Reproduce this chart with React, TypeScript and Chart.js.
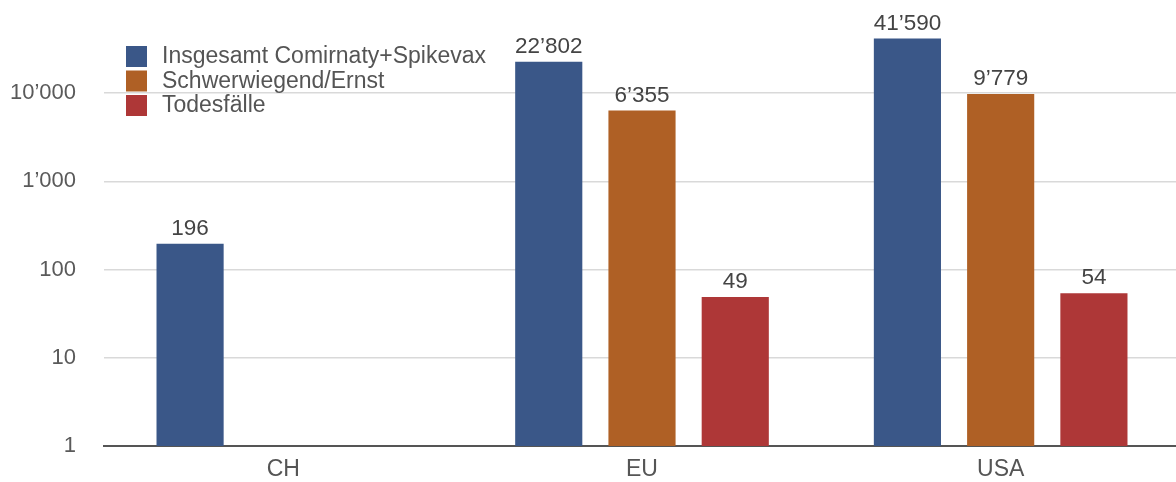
import React, { useEffect, useRef } from "react";
import { Chart, registerables } from "chart.js";

Chart.register(...registerables);

const categories = ["CH", "EU", "USA"];
const seriesNames = ["Insgesamt Comirnaty+Spikevax", "Schwerwiegend/Ernst", "Todesfälle"];
const totalValues: (number | null)[] = [196, 22802, 41590];
const seriousValues: (number | null)[] = [null, 6355, 9779];
const deathValues: (number | null)[] = [null, 49, 54];
const seriesColors = ["#3A5788", "#AF6025", "#AE3737"];
const yTickValues = [1, 10, 100, 1000, 10000, 100000];

const FONT = "'Liberation Sans', Arial, Helvetica, sans-serif";

const fmt = (v: number) =>
  String(Math.round(v)).replace(/\B(?=(\d{3})+(?!\d))/g, "\u2019");

const valueLabelPlugin = {
  id: "valueLabels",
  afterDatasetsDraw(chart: any) {
    const ctx = chart.ctx;
    ctx.save();
    ctx.font = `22.5px ${FONT}`;
    ctx.fillStyle = "#444444";
    ctx.textAlign = "center";
    ctx.textBaseline = "alphabetic";
    chart.data.datasets.forEach((ds: any, di: number) => {
      const meta = chart.getDatasetMeta(di);
      meta.data.forEach((el: any, i: number) => {
        const v = ds.data[i];
        if (v == null) return;
        ctx.fillText(fmt(v), el.x, el.y - 9);
      });
    });
    ctx.restore();
  },
};

const sideLegendPlugin = {
  id: "sideLegend",
  afterDatasetsDraw(chart: any) {
    const ctx = chart.ctx;
    const { left, top } = chart.chartArea;
    ctx.save();
    ctx.font = `23px ${FONT}`;
    ctx.textAlign = "left";
    ctx.textBaseline = "middle";
    chart.data.datasets.forEach((ds: any, i: number) => {
      const boxX = left + 22;
      const boxY = top + 41 + i * 24.5;
      ctx.fillStyle = ds.backgroundColor;
      ctx.fillRect(boxX, boxY, 21, 21);
      ctx.fillStyle = "#555555";
      ctx.fillText(ds.label, boxX + 36, boxY + 11);
    });
    ctx.restore();
  },
};

export default function App() {
  const canvasRef = useRef<HTMLCanvasElement | null>(null);

  useEffect(() => {
    document.documentElement.style.overflow = "hidden";
    document.body.style.overflow = "hidden";
    if (!canvasRef.current) return;
    const seriesValues = [totalValues, seriousValues, deathValues];
    const chart = new Chart(canvasRef.current, {
      type: "bar",
      data: {
        labels: categories,
        datasets: seriesNames.map((name, i) => ({
          label: name,
          data: seriesValues[i] as any,
          backgroundColor: seriesColors[i],
          borderWidth: 0,
          barPercentage: 0.72,
          categoryPercentage: 0.78,
        })),
      },
      options: {
        animation: false,
        responsive: true,
        maintainAspectRatio: false,
        layout: { padding: { top: 5, left: 0, right: 0, bottom: 0 } },
        plugins: {
          legend: { display: false },
          tooltip: { enabled: false },
        },
        scales: {
          x: {
            grid: { display: false, drawTicks: false },
            border: { display: true, color: "#555555", width: 2 },
            ticks: {
              color: "#555555",
              font: { family: FONT, size: 23 },
              padding: 10,
            },
            afterFit(scale: any) {
              scale.height = 36;
              scale.paddingLeft = 0;
              scale.paddingRight = 0;
            },
          },
          y: {
            type: "logarithmic",
            min: 1,
            max: 100000,
            afterBuildTicks(scale: any) {
              scale.ticks = yTickValues.map((v) => ({ value: v }));
            },
            afterFit(scale: any) {
              scale.width = 104;
              scale.paddingTop = 0;
              scale.paddingBottom = 0;
            },
            grid: {
              drawTicks: false,
              color: (c: any) =>
                c.tick && (c.tick.value === 1 || c.tick.value === 100000)
                  ? "rgba(0,0,0,0)"
                  : "#d9d9d9",
              lineWidth: 1.5,
            },
            border: { display: false },
            ticks: {
              color: "#5a5a5a",
              font: { family: FONT, size: 22 },
              padding: 28,
              autoSkip: false,
              callback: (v: any) => (Number(v) === 100000 ? "" : fmt(Number(v))),
            },
          },
        },
      },
      plugins: [valueLabelPlugin, sideLegendPlugin],
    });
    return () => chart.destroy();
  }, []);

  return (
    <div
      style={{
        position: "fixed",
        left: 0,
        top: 0,
        width: 1180,
        height: 482,
        background: "#ffffff",
      }}
    >
      <canvas ref={canvasRef} />
    </div>
  );
}
